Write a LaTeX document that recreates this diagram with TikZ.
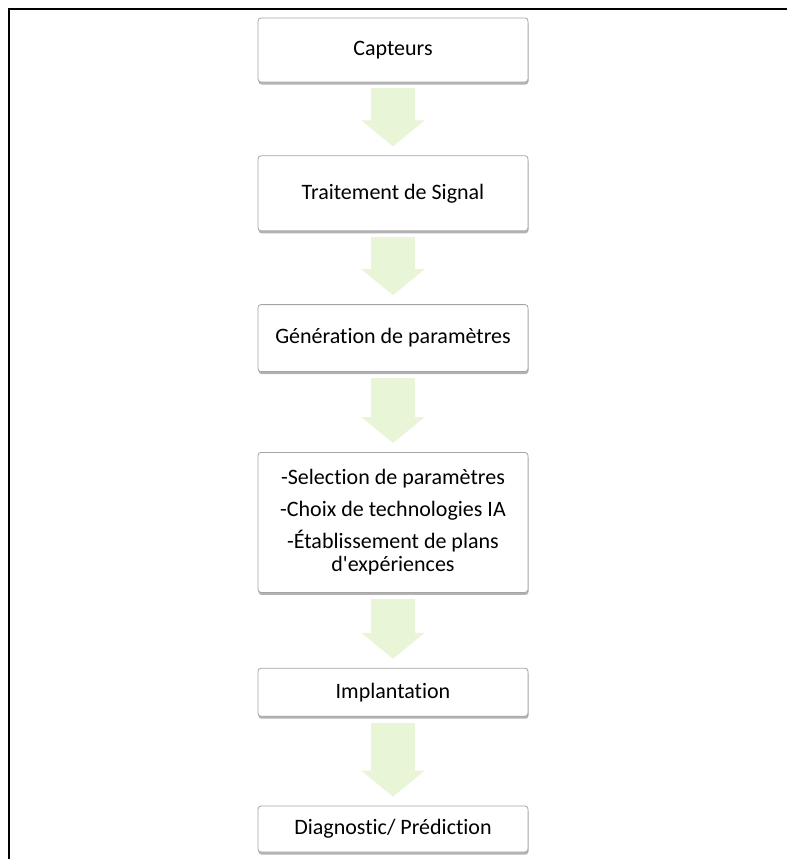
\documentclass[tikz,border=0pt]{standalone}
\usepackage{fontspec}
\setmainfont{Carlito}[Ligatures={TeX,NoCommon}]
\usepackage{tikz}
\usetikzlibrary{positioning,shadows,arrows.meta}

\definecolor{flechevert}{RGB}{232,245,214}
\definecolor{bordgris}{RGB}{165,165,165}

\begin{document}
\begin{tikzpicture}[x=1pt, y=-1pt, node distance=73pt,
    etape/.style={draw=bordgris, line width=0.8pt, rounded corners=3pt, fill=white,
        minimum width=270pt, align=center, font=\fontsize{22}{23}\selectfont,
        drop shadow={shadow xshift=0.5pt, shadow yshift=-2.5pt, fill=black!50, opacity=0.6}},
    fleche/.style={line width=44pt, draw=flechevert, -{Triangle[width=62pt,length=26pt]},
        shorten <=6pt, shorten >=9pt}]

        \useasboundingbox (0,0) rectangle (787,859);
        \draw[line width=2.5pt] (9,859) -- (9,9) -- (787,9);

        % 流程框
        \node (capteurs) [etape, minimum height=64pt] at (393,50) {Capteurs};
        \node (signal) [etape, minimum height=75pt, below=of capteurs] {Traitement de Signal};
        \node (generation) [etape, minimum height=67pt, below=of signal] {Génération de paramètres};
        \node (selection) [etape, minimum height=140pt, below=80pt of generation]
            {-Selection de paramètres\\[9pt]-Choix de technologies IA\\[9pt]-Établissement de plans\\d\textquotesingle expériences};
        \node (implantation) [etape, minimum height=48pt, below=75pt of selection] {Implantation};
        \node (diagnostic) [etape, minimum height=46pt, below=89pt of implantation] {Diagnostic/ Prédiction};

        % 箭头
        \draw[fleche] (capteurs) -- (signal);
        \draw[fleche] (signal) -- (generation);
        \draw[fleche] (generation) -- (selection);
        \draw[fleche] (selection) -- (implantation);
        \draw[fleche] (implantation) -- (diagnostic);

    \end{tikzpicture}
\end{document}
